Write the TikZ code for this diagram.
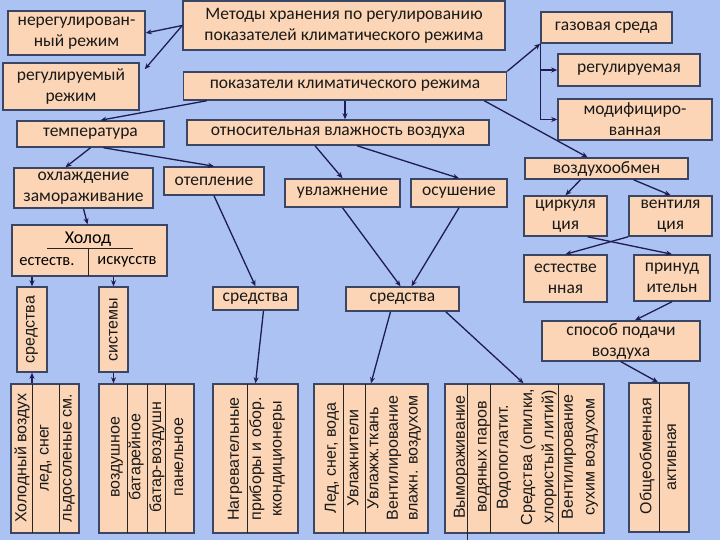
\documentclass[tikz,border=0pt]{standalone}
\usepackage{fontspec}
\setmainfont{Carlito}
\newfontfamily\vfont{Liberation Sans}
\usetikzlibrary{arrows.meta}
\definecolor{bgtop}{RGB}{172,194,242}
\definecolor{bgmid}{RGB}{162,112,236}
\definecolor{boxfill}{RGB}{251,213,181}
\definecolor{boxline}{RGB}{58,70,100}
\definecolor{arrowcol}{RGB}{30,28,80}
\tikzset{
  box/.style={draw=boxline, fill=boxfill, line width=1.5pt, inner sep=0pt, align=center,
    text=black!90, font=\fontsize{17.5}{21}\selectfont},
  vtxt/.style={rotate=90, inner sep=0pt, text=black!90, font=\vfont\fontsize{16}{18}\selectfont},
  arr/.style={draw=arrowcol, line width=1.3pt, -{Stealth[length=6pt,width=5pt]}},
  sep/.style={draw=black!85, line width=0.8pt}
}
\begin{document}
\begin{tikzpicture}[x=1pt, y=-1pt]
    \useasboundingbox (0,0) rectangle (720,540);
    \shade[top color=bgtop, middle color=bgmid, bottom color=bgtop] (0,0) rectangle (720,540);

    \node[box, minimum width=322, minimum height=49] (metody) at (344,25.5)
        {Методы хранения по регулированию\\показателей климатического режима};
    \node[box, minimum width=137, minimum height=44] (nereg) at (76.5,33) {нерегулирован-\\ный режим};
    \node[box, minimum width=136, minimum height=47] (regul) at (71,86.5) {регулируемый\\режим};
    \node[box, minimum width=323, minimum height=28] (pokaz) at (345,86) {показатели климатического режима};
    \node[box, minimum width=147, minimum height=26] (temp) at (90.5,134) {температура};
    \node[box, minimum width=302, minimum height=25] (otnos) at (338,132.5) {относительная влажность воздуха};
    \node[box, minimum width=131, minimum height=31] (gas) at (606.5,27.5) {газовая среда};
    \node[box, minimum width=142, minimum height=32] (regm) at (629,70) {регулируемая};
    \node[box, minimum width=154, minimum height=41] (modif) at (635,119.5) {модифициро-\\ванная};
    \node[box, minimum width=163, minimum height=21] (vozd) at (606.5,168.5) {воздухообмен};
    \node[box, minimum width=139, minimum height=40] (ohl) at (83.5,188) {охлаждение\\замораживание};
    \node[box, minimum width=100, minimum height=28] (otep) at (214,181) {отепление};
    \node[box, minimum width=115, minimum height=28] (uvl) at (342.5,193) {увлажнение};
    \node[box, minimum width=96, minimum height=28] (osush) at (459,193) {осушение};
    \node[box, minimum width=83, minimum height=40] (cirk) at (565.5,216) {циркуля\\ция};
    \node[box, minimum width=83, minimum height=40] (vent) at (670.5,216) {вентиля\\ция};
    \node[box, minimum width=83, minimum height=47] (estest) at (565.5,278.5) {естестве\\нная};
    \node[box, minimum width=76, minimum height=46] (prinud) at (672,278) {принуд\\ительн};
    \node[box, minimum width=158, minimum height=40] (sposob) at (621,341) {способ подачи\\воздуха};

    \node[box, minimum width=155, minimum height=51] (holod) at (89.5,250.5) {};
    \node[inner sep=0pt, font=\fontsize{18}{20}\selectfont] (holodt) at (88,239) {Холод};
    \node[inner sep=0pt, font=\fontsize{16.5}{20}\selectfont] (estv) at (47,262) {естеств.};
    \node[inner sep=0pt, font=\fontsize{16.5}{20}\selectfont] (iskv) at (127,262) {искусств};
    \draw[sep] (47,248) -- (133,248);
    \draw[sep] (88,248) -- (88,276);

    \node[box, minimum width=30, minimum height=85] (sredA) at (32,329.5) {};
    \node[vtxt] (sredAt) at (32,329.5) {средства};
    \node[box, minimum width=29, minimum height=85] (sist) at (113.5,329.5) {};
    \node[vtxt] (sistt) at (113.5,329.5) {системы};
    \node[box, minimum width=85, minimum height=23] (sredB) at (255.5,298.5) {средства};
    \node[box, minimum width=113, minimum height=24] (sredC) at (402.5,299) {средства};

    \node[box, minimum width=68, minimum height=149] (tabA) at (45,458.5) {};
    \draw[sep] (32,384) -- (32,533);
    \draw[sep] (59,384) -- (59,533);
    \node[vtxt] (a1) at (22,458) {Холодный воздух};
    \node[vtxt] (a2) at (46,458) {лед, снег};
    \node[vtxt] (a3) at (69,458) {льдосоленые см.};

    \node[box, minimum width=95, minimum height=149] (tabB) at (146.5,458.5) {};
    \draw[sep] (127,384) -- (127,533);
    \draw[sep] (147,384) -- (147,533);
    \draw[sep] (165,384) -- (165,533);
    \node[vtxt] (b1) at (117,457) {воздушное};
    \node[vtxt] (b2) at (136,457) {батарейное};
    \node[vtxt] (b3) at (157,457) {батар-воздушн};
    \node[vtxt] (b4) at (179,457) {панельное};

    \node[box, minimum width=85, minimum height=149] (tabC) at (255.5,458.5) {};
    \draw[sep] (247,384) -- (247,533);
    \node[vtxt] (c1) at (235,459) {Нагревательные};
    \node[vtxt] (c2) at (257,459) {приборы и обор.};
    \node[vtxt] (c3) at (279,459) {ккондиционеры};

    \node[box, minimum width=114, minimum height=149] (tabD) at (371,458.5) {};
    \draw[sep] (343,384) -- (343,533);
    \draw[sep] (365,384) -- (365,533);
    \node[vtxt] (d1) at (332,458) {Лед, снег, вода};
    \node[vtxt] (d2) at (353,458) {Увлажнители};
    \node[vtxt] (d3) at (373,458) {Увлажж.ткань};
    \node[vtxt] (d4) at (394,458) {Вентилирование};
    \node[vtxt] (d5) at (415,458) {влажн. воздухом};

    \node[box, minimum width=159, minimum height=149] (tabE) at (524.5,458.5) {};
    \draw[sep] (467,384) -- (467,540);
    \draw[sep] (490,384) -- (490,533);
    \draw[sep] (558,384) -- (558,533);
    \node[vtxt] (e1) at (461,457) {Вымораживание};
    \node[vtxt] (e2) at (484,457) {водяных паров};
    \node[vtxt] (e3) at (504,457) {Водопоглатит.};
    \node[vtxt] (e4) at (528,457) {Средства (опилки,};
    \node[vtxt] (e5) at (549,457) {хлористый литий)};
    \node[vtxt] (e6) at (569,457) {Вентилирование};
    \node[vtxt] (e7) at (592,457) {сухим воздухом};

    \node[box, minimum width=60, minimum height=149] (tabF) at (659,457.5) {};
    \draw[sep] (659,383) -- (659,532);
    \node[vtxt] (f1) at (647,456) {Общеобменная};
    \node[vtxt] (f2) at (672,457) {активная};

    \draw[arr] (metody.west) -- (nereg.east);
    \draw[arr] (metody.west) -- ([xshift=5pt,yshift=-7pt]regul.north east);
    \draw[arr] ([xshift=24pt]pokaz.south west) -- ([xshift=10pt]temp.north);
    \draw[arr] (pokaz.south) -- (pokaz.south |- otnos.north);
    \draw[arr] (pokaz.north east) -- (gas.south west);
    \draw[arr] (gas.south west) |- (modif.west);
    \draw[arr] (gas.south west |- regm.west) -- (regm.west);
    \draw[arr] ([xshift=-23pt]pokaz.south east) -- ([xshift=-19pt]vozd.north);
    \draw[arr] (temp.south) -- ([xshift=-18pt]ohl.north);
    \draw[arr] ([xshift=13pt]temp.south) -- (otep.north);
    \draw[arr] ([xshift=-23pt]otnos.south) -- (uvl.north);
    \draw[arr] ([xshift=19pt]otnos.south) -- (osush.north);
    \draw[arr] (otep.south) -- (sredB.north);
    \draw[arr] (uvl.south) -- ([xshift=-2pt]sredC.north);
    \draw[arr] (osush.south) -- ([xshift=9pt]sredC.north);
    \draw[arr] (ohl.south) -- ([xshift=-2pt]holod.north);
    \draw[arr] (sredA.north |- holod.south) -- (sredA.north);
    \draw[arr] (sist.north |- holod.south) -- (sist.north);
    \draw[arr] (sredA.south |- tabA.north) -- (sredA.south);
    \draw[arr] (sist.south) -- (sist.south |- tabB.north);
    \draw[arr] ([xshift=8pt]sredB.south) -- (tabC.north);
    \draw[arr] ([xshift=-12pt]sredC.south) -- (tabD.north);
    \draw[arr] ([xshift=-14pt]sredC.south east) -- ([xshift=-1pt]tabE.north);
    \draw[arr] (sposob.south) -- ([xshift=-1pt]tabF.north);
    \draw[arr] ([xshift=-26pt]vozd.south) -- (cirk.north);
    \draw[arr] ([xshift=27pt]vozd.south) -- (vent.north);
    \draw[arr] ([xshift=22pt]cirk.south) -- (prinud.north);
    \draw[arr] (vent.south west) -- (estest.north);
    \draw[arr] (prinud.south) -- ([xshift=14pt]sposob.north);
\end{tikzpicture}
\end{document}
